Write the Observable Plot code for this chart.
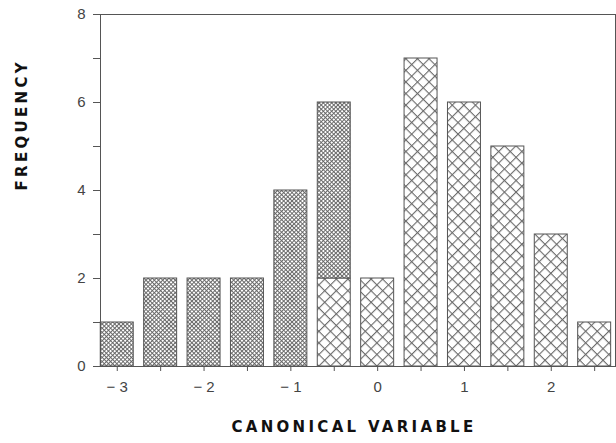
<!DOCTYPE html>
<html>
<head>
<meta charset="utf-8">
<script src="https://cdn.jsdelivr.net/npm/d3@7"></script>
<script src="https://cdn.jsdelivr.net/npm/@observablehq/plot@0.6"></script>
<style>
  html, body { margin: 0; padding: 0; background: #fff; }
</style>
</head>
<body>
<div id="chart"></div>
<script>
// ---- data ----
const denseX = [-3, -2.5, -2, -1.5, -1, -0.5];
const denseCounts = [1, 2, 2, 2, 4, 4];
const sparseX = [-0.5, 0, 0.5, 1, 1.5, 2, 2.5];
const sparseCounts = [2, 2, 7, 6, 5, 3, 1];
const xTicks = [-3, -2.5, -2, -1.5, -1, -0.5, 0, 0.5, 1, 1.5, 2, 2.5];
const yTicks = [0, 1, 2, 3, 4, 5, 6, 7, 8];
const xLabel = "CANONICAL VARIABLE";
const yLabel = "FREQUENCY";

// table for the library: dense group stacked on top of the sparse group
const rows = [
  ...sparseX.map((x, i) => ({x, group: "sparse", y1: 0, y2: sparseCounts[i]})),
  ...denseX.map((x, i) => {
    const j = sparseX.indexOf(x);
    const base = j < 0 ? 0 : sparseCounts[j];
    return {x, group: "dense", y1: base, y2: base + denseCounts[i]};
  })
];

const halfWidth = 0.19;
const fmtTick = d => Number.isInteger(d) ? (d < 0 ? "\u2212 " + Math.abs(d) : String(d)) : "";
const fmtY = d => d % 2 === 0 ? String(d) : "";

const chart = Plot.plot({
  width: 616,
  height: 443,
  marginLeft: 100,
  marginRight: 1,
  marginTop: 14,
  marginBottom: 77,
  style: {fontFamily: "'Liberation Sans', Arial, sans-serif", fontSize: "15px", color: "#444", background: "#fff"},
  x: {domain: [-3.193, 2.74], label: null},
  y: {domain: [0, 8], label: null},
  color: {domain: ["dense", "sparse"], range: ["url(#hatchDense)", "url(#hatchSparse)"]},
  marks: [
    Plot.rect(rows, {
      x1: d => d.x - halfWidth,
      x2: d => d.x + halfWidth,
      y1: "y1",
      y2: "y2",
      fill: "group",
      stroke: "#555",
      strokeWidth: 1
    }),
    Plot.frame({stroke: "#555", strokeWidth: 1}),
    Plot.axisX({ticks: xTicks, tickFormat: fmtTick, tickSize: 5, tickPadding: 10, fontSize: 15, stroke: "#555", fill: "#444", label: null}),
    Plot.axisY({ticks: yTicks, tickFormat: fmtY, tickSize: 7, tickPadding: 8, fontSize: 15, stroke: "#555", fill: "#444", label: null}),
    Plot.text([xLabel], {text: d => d, frameAnchor: "bottom", dy: 65, dx: -4, fontWeight: "bold", fontSize: 15, fontFamily: "'DejaVu Sans', sans-serif", fill: "#111"}),
    Plot.text([yLabel], {text: d => d, frameAnchor: "left", dx: -78, rotate: -90, fontWeight: "bold", fontSize: 15, fontFamily: "'DejaVu Sans', sans-serif", fill: "#111"})
  ]
});
chart.setAttribute("font-size", 15);
document.getElementById("chart").appendChild(chart);

// hatch patterns referenced by the color scale range
const svg = d3.select(chart);
const defs = svg.append("defs");
function hatch(id, size, sw, color) {
  const p = defs.append("pattern")
    .attr("id", id)
    .attr("patternUnits", "userSpaceOnUse")
    .attr("width", size)
    .attr("height", size)
    .attr("patternTransform", "rotate(45)");
  p.append("rect").attr("width", size).attr("height", size).attr("fill", "#fff");
  p.append("rect").attr("width", size).attr("height", sw).attr("fill", color);
  p.append("rect").attr("width", sw).attr("height", size).attr("fill", color);
}
hatch("hatchDense", 2.95, 0.95, "#666");
hatch("hatchSparse", 8.2, 1.1, "#6a6a6a");

svg.selectAll("text").each(function () {
  const t = this.textContent;
  const el = d3.select(this);
  el.attr("font-size", 15).style("font-size", "15px");
  if (t === xLabel || t === yLabel) el.style("letter-spacing", "3.3px");
});
</script>
</body>
</html>
